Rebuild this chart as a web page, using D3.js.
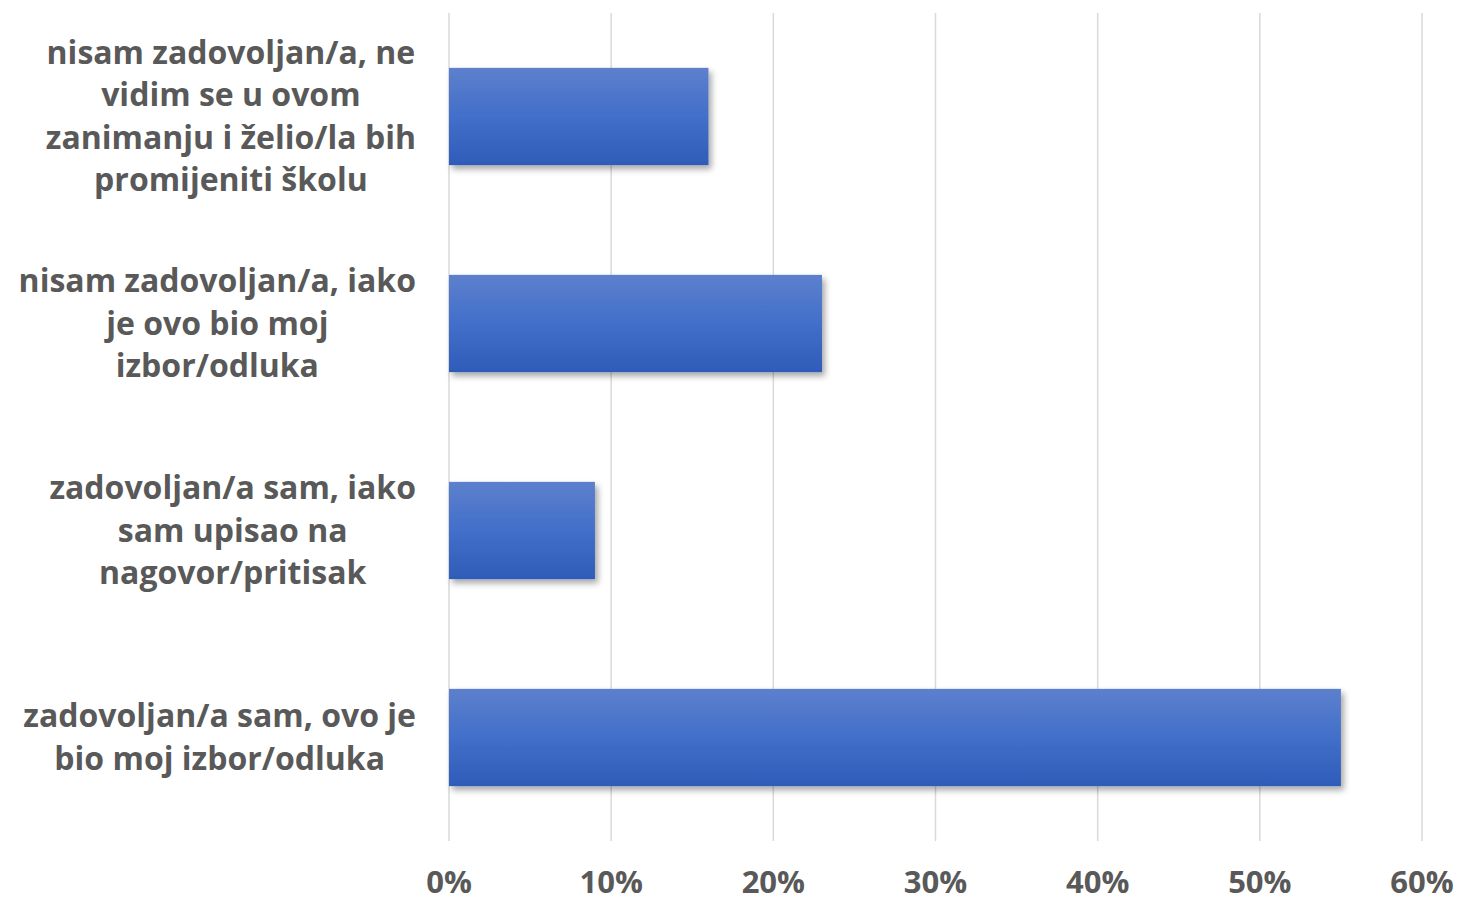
<!DOCTYPE html>
<html>
<head>
<meta charset="utf-8">
<title>Zadovoljstvo</title>
<script src="https://cdnjs.cloudflare.com/ajax/libs/d3/7.8.5/d3.min.js"></script>
<style>
  body { margin: 0; background: #fff; }
  text { font-family: "Open Sans", "Noto Sans", sans-serif; font-weight: bold; fill: #595959; }
</style>
</head>
<body>
<svg id="chart" width="1463" height="902"></svg>
<script>
// categories, top to bottom, already split into the lines shown
var categories = [
  ["nisam zadovoljan/a, ne", "vidim se u ovom", "zanimanju i želio/la bih", "promijeniti školu"],
  ["nisam zadovoljan/a, iako", "je ovo bio moj", "izbor/odluka"],
  ["zadovoljan/a sam, iako", "sam upisao na", "nagovor/pritisak"],
  ["zadovoljan/a sam, ovo je", "bio moj izbor/odluka"]
];
var values = [0.16, 0.23, 0.09, 0.55];
var ticks = [0, 0.1, 0.2, 0.3, 0.4, 0.5, 0.6];

var svg = d3.select("#chart");
var margin = { top: 13, left: 449, right: 41, bottom: 61 };
var width = 1463 - margin.left - margin.right,
    height = 902 - margin.top - margin.bottom;

var defs = svg.append("defs");
var grad = defs.append("linearGradient")
    .attr("id", "barGrad")
    .attr("x1", 0).attr("y1", 0).attr("x2", 0).attr("y2", 1);
grad.append("stop").attr("offset", "0%").attr("stop-color", "#5d80cd");
grad.append("stop").attr("offset", "50%").attr("stop-color", "#426fca");
grad.append("stop").attr("offset", "100%").attr("stop-color", "#2e5cb8");

var shadow = defs.append("filter").attr("id", "shadow")
    .attr("x", "-5%").attr("y", "-10%").attr("width", "115%").attr("height", "130%");
shadow.append("feDropShadow")
    .attr("dx", 3).attr("dy", 4).attr("stdDeviation", 3)
    .attr("flood-color", "#000").attr("flood-opacity", 0.35);

var x = d3.scaleLinear().domain([0, 0.6]).range([0, width]);
var y = d3.scaleBand().domain(d3.range(categories.length)).range([0, height]).paddingInner(0.53).paddingOuter(0.265);

var g = svg.append("g").attr("transform", "translate(" + margin.left + "," + margin.top + ")");

// gridlines
g.selectAll("line.grid")
  .data(ticks)
  .enter().append("line")
    .attr("class", "grid")
    .attr("x1", function(d) { return x(d); })
    .attr("x2", function(d) { return x(d); })
    .attr("y1", 0)
    .attr("y2", height)
    .attr("stroke", "#d9d9d9")
    .attr("stroke-width", 1.5);

// bars
g.selectAll("rect.bar")
  .data(values)
  .enter().append("rect")
    .attr("class", "bar")
    .attr("x", x(0))
    .attr("y", function(d, i) { return y(i); })
    .attr("width", function(d) { return x(d) - x(0); })
    .attr("height", y.bandwidth())
    .attr("fill", "url(#barGrad)")
    .attr("filter", "url(#shadow)");

// x axis labels
g.selectAll("text.tick")
  .data(ticks)
  .enter().append("text")
    .attr("class", "tick")
    .attr("x", function(d) { return x(d); })
    .attr("y", height + 52)
    .attr("text-anchor", "middle")
    .attr("font-size", 31)
    .text(d3.format(".0%"));

// category labels: block right-aligned, lines centered inside it
var lineH = 42.5;
var labelRight = 416;
categories.forEach(function(lines, i) {
  var cy = margin.top + y(i) + y.bandwidth() / 2;
  var lg = svg.append("g");
  var t = lg.selectAll("text")
    .data(lines)
    .enter().append("text")
      .attr("font-size", 32)
      .attr("text-anchor", "middle")
      .attr("dy", "0.35em")
      .attr("y", function(d, j) { return cy + (j - (lines.length - 1) / 2) * lineH; })
      .text(function(d) { return d; });
  var maxW = d3.max(t.nodes(), function(n) { return n.getComputedTextLength(); });
  t.attr("x", labelRight - maxW / 2);
});
</script>
</body>
</html>
